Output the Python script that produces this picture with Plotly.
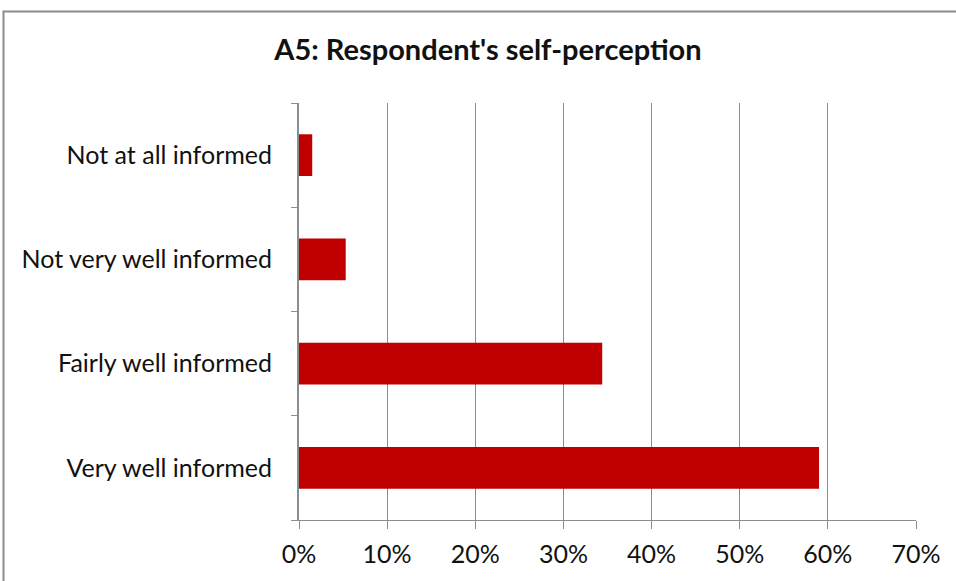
import plotly.graph_objects as go

categories = ["Very well informed", "Fairly well informed", "Not very well informed", "Not at all informed"]
values = [0.59, 0.344, 0.053, 0.015]
tick_vals = [0, 0.1, 0.2, 0.3, 0.4, 0.5, 0.6, 0.7]
tick_text = ["0%", "10%", "20%", "30%", "40%", "50%", "60%", "70%"]

W, H = 956, 581
L, R, T, B = 299, 40, 103, 61
pw, ph = W - L - R, H - T - B

fig = go.Figure(go.Bar(
    x=values, y=categories, orientation="h",
    marker=dict(color="#C00000", line=dict(width=0)),
    hoverinfo="x+y",
))

font_family = "Lato, 'Open Sans', sans-serif"
fig.update_layout(
    width=W, height=H,
    margin=dict(l=L, r=R, t=T, b=B, pad=0),
    paper_bgcolor="white", plot_bgcolor="white",
    bargap=0.6,
    showlegend=False,
    font=dict(family=font_family, size=25, color="#111111"),
    title=dict(text="<b>A5: Respondent's self-perception</b>",
               x=488 / W, xanchor="center", y=1 - 50 / H, yanchor="middle",
               font=dict(family=font_family, size=29, color="#111111")),
    xaxis=dict(range=[0, 0.7], tickvals=tick_vals, ticktext=tick_text,
               showgrid=True, gridcolor="#8c8c8c", gridwidth=1,
               showline=True, linecolor="#8c8c8c", linewidth=1,
               ticks="outside", ticklen=8, tickcolor="#8c8c8c",
               zeroline=False, fixedrange=True, ticklabelstandoff=4,
               tickfont=dict(size=25, color="#111111")),
    yaxis=dict(categoryorder="array", categoryarray=categories,
               showline=True, linecolor="#8c8c8c", linewidth=2,
               ticks="outside", ticklen=6, tickcolor="#8c8c8c", tickson="boundaries",
               showgrid=False, fixedrange=True, ticklabelstandoff=20,
               tickfont=dict(size=25, color="#111111")),
    shapes=[dict(type="rect", xref="paper", yref="paper",
                 x0=(3.5 - L) / pw, x1=(W + 20 - L) / pw,
                 y0=-(B + 20) / ph, y1=1 + (T - 11.5) / ph,
                 line=dict(color="#8c8c8c", width=2), fillcolor="rgba(0,0,0,0)",
                 layer="below")],
)

fig.write_html("out.html", config={"displayModeBar": False},
               post_script="document.body.style.margin='0';document.body.style.overflow='hidden';")
